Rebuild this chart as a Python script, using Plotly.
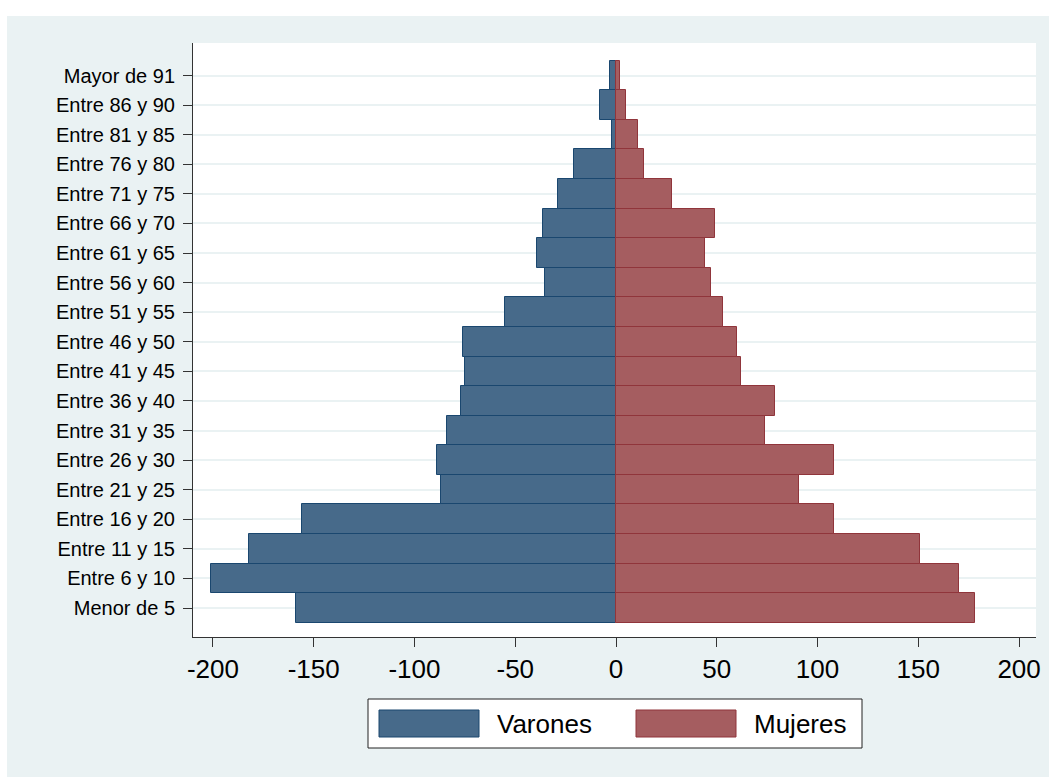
import plotly.graph_objects as go

categories = ["Menor de 5", "Entre 6 y 10", "Entre 11 y 15", "Entre 16 y 20",
              "Entre 21 y 25", "Entre 26 y 30", "Entre 31 y 35", "Entre 36 y 40",
              "Entre 41 y 45", "Entre 46 y 50", "Entre 51 y 55", "Entre 56 y 60",
              "Entre 61 y 65", "Entre 66 y 70", "Entre 71 y 75", "Entre 76 y 80",
              "Entre 81 y 85", "Entre 86 y 90", "Mayor de 91"]
varones = [-159, -201, -182, -156, -87, -89, -84, -77, -75, -76, -55, -35,
           -39, -36, -29, -21, -2, -8, -3]
mujeres = [178, 170, 151, 108, 91, 108, 74, 79, 62, 60, 53, 47, 44, 49, 28, 14, 11, 5, 2]
x_ticks = [-200, -150, -100, -50, 0, 50, 100, 150, 200]
series_names = ["Varones", "Mujeres"]

W, H = 1049, 777
L, R, T, B = 193, 1036, 43, 637
BG = "#EAF2F3"
FILL = ["#476A8A", "#A55D60"]
EDGE = ["#1A476F", "#90353B"]
FONT = "Liberation Sans, Arial, sans-serif"

fig = go.Figure()
for name, vals, fc, ec in zip(series_names, [varones, mujeres], FILL, EDGE):
    fig.add_trace(go.Bar(
        y=categories, x=vals, orientation="h", name=name, width=1.0,
        marker=dict(color=fc, line=dict(color=ec, width=1)),
        showlegend=False,
    ))

def px(xp):
    return (xp - L) / (R - L)

def py(yp):
    return (B - yp) / (B - T)

shapes = [
    # white strips outside the grey graph region
    dict(type="rect", xref="paper", yref="paper", x0=px(0), x1=px(W), y0=py(16), y1=py(0),
         fillcolor="white", line=dict(width=0), layer="below"),
    dict(type="rect", xref="paper", yref="paper", x0=px(0), x1=px(7), y0=py(H), y1=py(0),
         fillcolor="white", line=dict(width=0), layer="below"),
    # legend box
    dict(type="rect", xref="paper", yref="paper", x0=px(368), x1=px(862), y0=py(748), y1=py(699),
         fillcolor="white", line=dict(color="#222222", width=1)),
]
annotations = []
sw_x = [(379, 479), (636, 736)]
txt_x = [495, 752]
for i, name in enumerate(series_names):
    shapes.append(dict(type="rect", xref="paper", yref="paper",
                       x0=px(sw_x[i][0]), x1=px(sw_x[i][1]), y0=py(737), y1=py(710),
                       fillcolor=FILL[i], line=dict(color=EDGE[i], width=1)))
    annotations.append(dict(xref="paper", yref="paper", x=px(txt_x[i]), y=py(723.5),
                            text=name, showarrow=False, xanchor="left", yanchor="middle",
                            font=dict(family=FONT, size=26, color="black")))

fig.update_layout(
    width=W, height=H,
    margin=dict(l=L, r=W - R, t=T, b=H - B, pad=0),
    paper_bgcolor=BG, plot_bgcolor="white",
    barmode="overlay", bargap=0,
    font=dict(family=FONT, color="black"),
    shapes=shapes, annotations=annotations,
    xaxis=dict(range=[-209.9, 208.4], tickmode="array", tickvals=x_ticks,
               ticktext=[str(v) for v in x_ticks], ticks="outside", ticklen=9,
               tickcolor="#333333", tickwidth=1, showgrid=False, zeroline=False,
               showline=True, linecolor="#333333", linewidth=1, automargin=False,
               tickfont=dict(family=FONT, size=26, color="black")),
    yaxis=dict(type="category", categoryorder="array", categoryarray=categories,
               range=[-0.98, 19.1], ticks="outside", ticklen=9, tickcolor="#333333",
               tickwidth=1, showgrid=True, gridcolor=BG, gridwidth=2,
               showline=True, linecolor="#333333", linewidth=1, zeroline=False,
               ticklabelstandoff=4, automargin=False,
               tickfont=dict(family=FONT, size=20, color="black")),
)

fig.write_html("out.html", config={"displayModeBar": False},
               post_script="document.body.style.margin='0';")
